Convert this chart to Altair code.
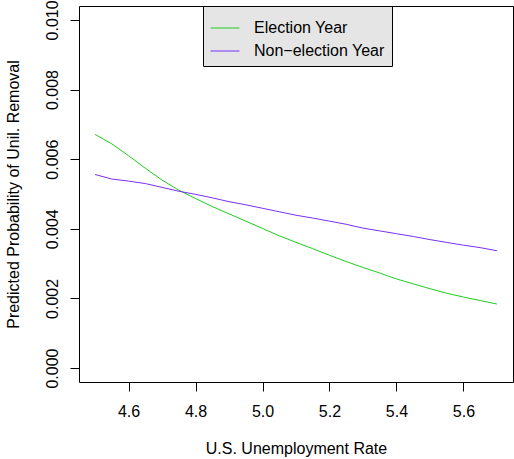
import altair as alt
import pandas as pd

unemployment = [4.50, 4.55, 4.60, 4.65, 4.70, 4.75, 4.80, 4.85, 4.90, 4.95,
                5.00, 5.05, 5.10, 5.15, 5.20, 5.25, 5.30, 5.35, 5.40, 5.45,
                5.50, 5.55, 5.60, 5.65, 5.70]
election_year = [0.00671, 0.00644, 0.00610, 0.00574, 0.00540, 0.00511, 0.00487,
                 0.00464, 0.00443, 0.00422, 0.00401, 0.00380, 0.00361, 0.00343,
                 0.00324, 0.00306, 0.00289, 0.00273, 0.00256, 0.00242, 0.00228,
                 0.00215, 0.00204, 0.00194, 0.00184]
non_election_year = [0.00556, 0.00543, 0.00537, 0.00530, 0.00519, 0.00508, 0.00499,
                     0.00489, 0.00478, 0.00469, 0.00459, 0.00449, 0.00439, 0.00431,
                     0.00422, 0.00413, 0.00402, 0.00394, 0.00386, 0.00378, 0.00369,
                     0.00361, 0.00353, 0.00346, 0.00337]
series_names = ["Election Year", "Non\u2212election Year"]
x_ticks = [4.6, 4.8, 5.0, 5.2, 5.4, 5.6]
y_ticks = [0.000, 0.002, 0.004, 0.006, 0.008, 0.010]

rows = []
for u, e in zip(unemployment, election_year):
    rows.append({"rate": u, "prob": e, "series": series_names[0]})
for u, n in zip(unemployment, non_election_year):
    rows.append({"rate": u, "prob": n, "series": series_names[1]})
df = pd.DataFrame(rows)

FONT = "Liberation Sans"
FS = 16

chart = alt.Chart(df).mark_line(strokeWidth=1).encode(
    x=alt.X("rate:Q",
            scale=alt.Scale(domain=[4.452, 5.748], nice=False, zero=False),
            axis=alt.Axis(values=x_ticks, format=".1f", title="U.S. Unemployment Rate",
                          tickSize=9, labelPadding=12, domain=False, grid=False,
                          titleY=71, titleBaseline="alphabetic")),
    y=alt.Y("prob:Q",
            scale=alt.Scale(domain=[-0.0004, 0.0104], nice=False, zero=False),
            axis=alt.Axis(values=y_ticks, format=".3f",
                          title="Predicted Probability of Unil. Removal",
                          tickSize=9, labelPadding=13, labelAngle=270,
                          labelAlign="center", labelBaseline="alphabetic",
                          domain=False, grid=False,
                          titleX=-61, titleY=188, titleAngle=270,
                          titleAlign="center", titleBaseline="alphabetic")),
    color=alt.Color("series:N",
                    scale=alt.Scale(domain=series_names, range=["#1ECC1E", "#7A30F5"]),
                    legend=alt.Legend(title=None, orient="none", legendX=124, legendY=0,
                                      symbolType="stroke", symbolSize=841,
                                      symbolStrokeWidth=1, labelOffset=14,
                                      fillColor="#E5E5E5", strokeColor="black",
                                      padding=7, rowPadding=-8)),
    order=alt.Order("rate:Q"),
).properties(
    width=434, height=376,
    background="white",
    autosize=alt.AutoSizeParams(type="none"),
    padding={"left": 79, "top": 6, "right": 1, "bottom": 77},
).configure_view(
    stroke="black", strokeWidth=1
).configure_axis(
    labelFont=FONT, titleFont=FONT, labelFontSize=FS, titleFontSize=FS,
    labelColor="black", titleColor="black", tickColor="black",
    titleFontWeight="normal", tickWidth=1,
).configure_legend(
    labelFont=FONT, labelFontSize=FS, labelColor="black",
)

chart.save("out.html", embed_options={"renderer": "svg", "actions": False})
